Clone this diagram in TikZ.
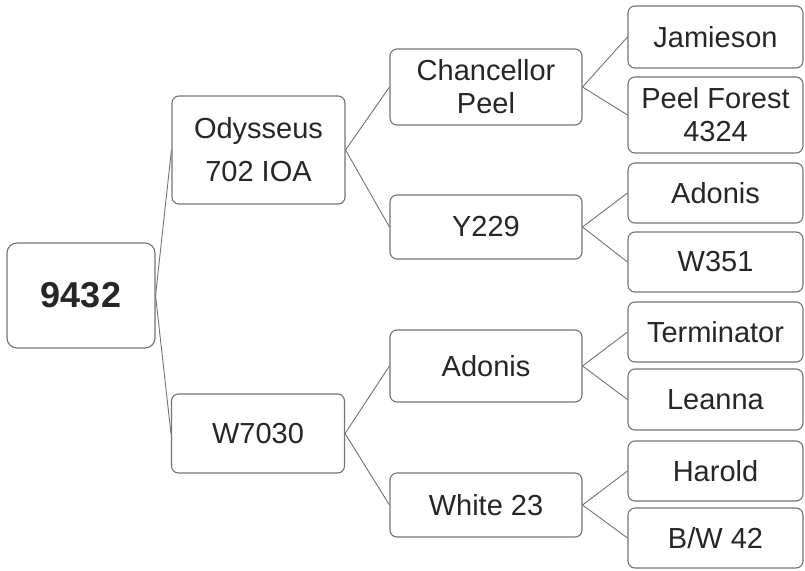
\documentclass[tikz,border=0pt]{standalone}
\usepackage{fontspec}
\setmainfont{Liberation Sans}
\usepackage{tikz}
\usetikzlibrary{positioning}

\begin{document}
\begin{tikzpicture}[
  x=1pt, y=-1pt,
  font=\fontsize{29}{33}\selectfont,
  box/.style={draw=black!55, line width=1.1pt, rounded corners=7pt, inner sep=0pt,
              align=center, text=black!85, minimum height=60pt},
  sire/.style={box, minimum width=173pt},
  grand/.style={box, minimum width=192pt},
  great/.style={box, minimum width=175pt},
  link/.style={draw=black!55, line width=0.9pt}
]
  \useasboundingbox (0,0) rectangle (805,570);
  % pedigree
  \node[box, minimum width=148pt, minimum height=105pt, rounded corners=10pt,
        font=\fontsize{36}{40}\selectfont\bfseries] (root) at (81,295.5) {9432};
  \node[sire, minimum height=108pt] (odysseus) at (258.5,150) {Odysseus\\[10pt]702 IOA};
  \node[sire, minimum height=79pt] (w7030) at (258,433.5) {W7030};
  \node[grand, minimum height=76pt] (chancellor) at (486,87) {Chancellor\\Peel};
  \node[grand, minimum height=64pt] (y229) at (486,227) {Y229};
  \node[grand, minimum height=72pt] (adonisA) at (486,366) {Adonis};
  \node[grand, minimum height=64pt] (white) at (486,505) {White 23};
  \node[great, minimum height=62pt] (jamieson) at (715.5,37) {Jamieson};
  \node[great, minimum height=76pt] (peelforest) at (715.5,115) {Peel Forest\\4324};
  \node[great] (adonisB) at (715.5,193) {Adonis};
  \node[great] (w351) at (715.5,262) {W351};
  \node[great] (terminator) at (715.5,332) {Terminator};
  \node[great, minimum height=61pt] (leanna) at (715.5,399.5) {Leanna};
  \node[great] (harold) at (715.5,471) {Harold};
  \node[great] (bw42) at (715.5,538) {B/W 42};
  % links
  \draw[link] (root.east) -- (odysseus.west);
  \draw[link] (root.east) -- (w7030.west);
  \draw[link] (odysseus.east) -- (chancellor.west);
  \draw[link] (odysseus.east) -- (y229.west);
  \draw[link] (w7030.east) -- (adonisA.west);
  \draw[link] (w7030.east) -- (white.west);
  \draw[link] (chancellor.east) -- (jamieson.west);
  \draw[link] (chancellor.east) -- (peelforest.west);
  \draw[link] (y229.east) -- (adonisB.west);
  \draw[link] (y229.east) -- (w351.west);
  \draw[link] (adonisA.east) -- (terminator.west);
  \draw[link] (adonisA.east) -- (leanna.west);
  \draw[link] (white.east) -- (harold.west);
  \draw[link] (white.east) -- (bw42.west);
\end{tikzpicture}
\end{document}
